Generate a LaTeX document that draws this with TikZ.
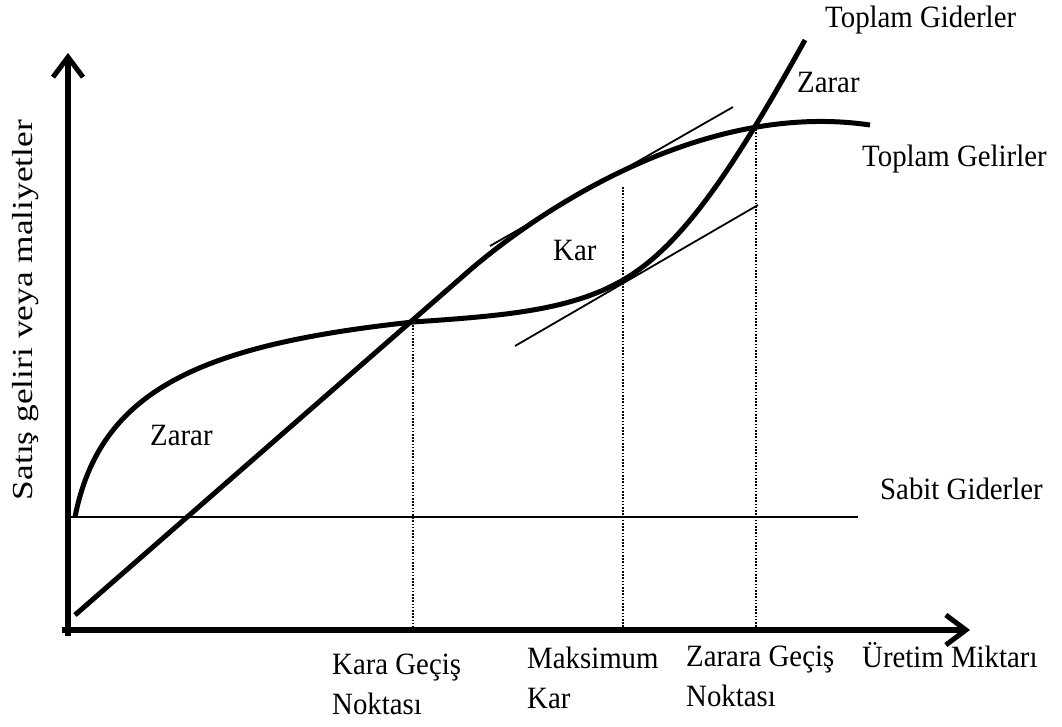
\documentclass[tikz,border=0pt]{standalone}
\usepackage{fontspec}
\setmainfont{Liberation Serif}[FakeStretch=0.93]
\newfontfamily\axislabelfont{Liberation Serif}[FakeStretch=1.22]
\usetikzlibrary{arrows.meta}
\begin{document}
\begin{tikzpicture}[x=1pt,y=-1pt,
  every node/.style={inner sep=0pt,font=\fontsize{31}{40}\selectfont},
  lbl/.style={anchor=base west},
  lbl2/.style={anchor=base west,align=left},
  axis/.style={line width=6pt,-{Straight Barb[length=20pt,width=30pt,line width=5pt]}},
  curve/.style={line width=5pt},
  thin/.style={line width=1.8pt},
  guide/.style={line width=1.6pt,dash pattern=on 1.6pt off 1.6pt}]
\useasboundingbox (0,0) rectangle (1062,727);

% key points
\coordinate (O) at (68,630);
\coordinate (ytop) at (68,53);
\coordinate (xend) at (970,630);
\coordinate (fcL) at (68,517);
\coordinate (fcR) at (858,517);
\coordinate (be1) at (413,322);
\coordinate (mp) at (623,280);
\coordinate (mpR) at (623,187);
\coordinate (be2) at (756,126);

% axes
\draw[axis] (68,636) -- (ytop);
\draw[axis] (62,630) -- (xend);

% fixed costs
\draw[thin] (fcL) -- (fcR);

% total revenue
\draw[curve] (75,615) -- (470,270) .. controls (535,214) and (700,100) .. (870,125);

% total costs
\draw[curve] (75,517) .. controls (100,390) and (200,345) .. (be1)
  .. controls (500,316) and (570,311) .. (mp)
  .. controls (680,247) and (730,175) .. (805,40);

% parallel tangents
\draw[thin] (490,246) -- (733,107);
\draw[thin] (515,346) -- (758,205);

% guides down to the quantity axis
\draw[guide] (be1) -- (be1 |- O);
\draw[guide] (mpR) -- (mpR |- O);
\draw[guide] (be2) -- (be2 |- O);

% labels (two-line labels are placed by their second baseline)
\node[lbl] (tg) at (825,28) {Toplam Giderler};
\node[lbl] (z1) at (797,93) {Zarar};
\node[lbl] (tr) at (862,167) {Toplam Gelirler};
\node[lbl] (kar) at (553,261) {Kar};
\node[lbl] (z2) at (150,445) {Zarar};
\node[lbl] (fc) at (880,499) {Sabit Giderler};
\node[lbl] (q) at (862,667) {Üretim Miktarı};
\node[lbl2] (kg) at (332,714) {Kara Geçiş\\Noktası};
\node[lbl2] (mk) at (527,708) {Maksimum\\Kar};
\node[lbl2] (zg) at (686,706) {Zarara Geçiş\\Noktası};
\node[rotate=90,anchor=base,font=\axislabelfont\fontsize{29}{34}\selectfont] (yl) at (32,310) {Satış geliri veya maliyetler};
\end{tikzpicture}
\end{document}
